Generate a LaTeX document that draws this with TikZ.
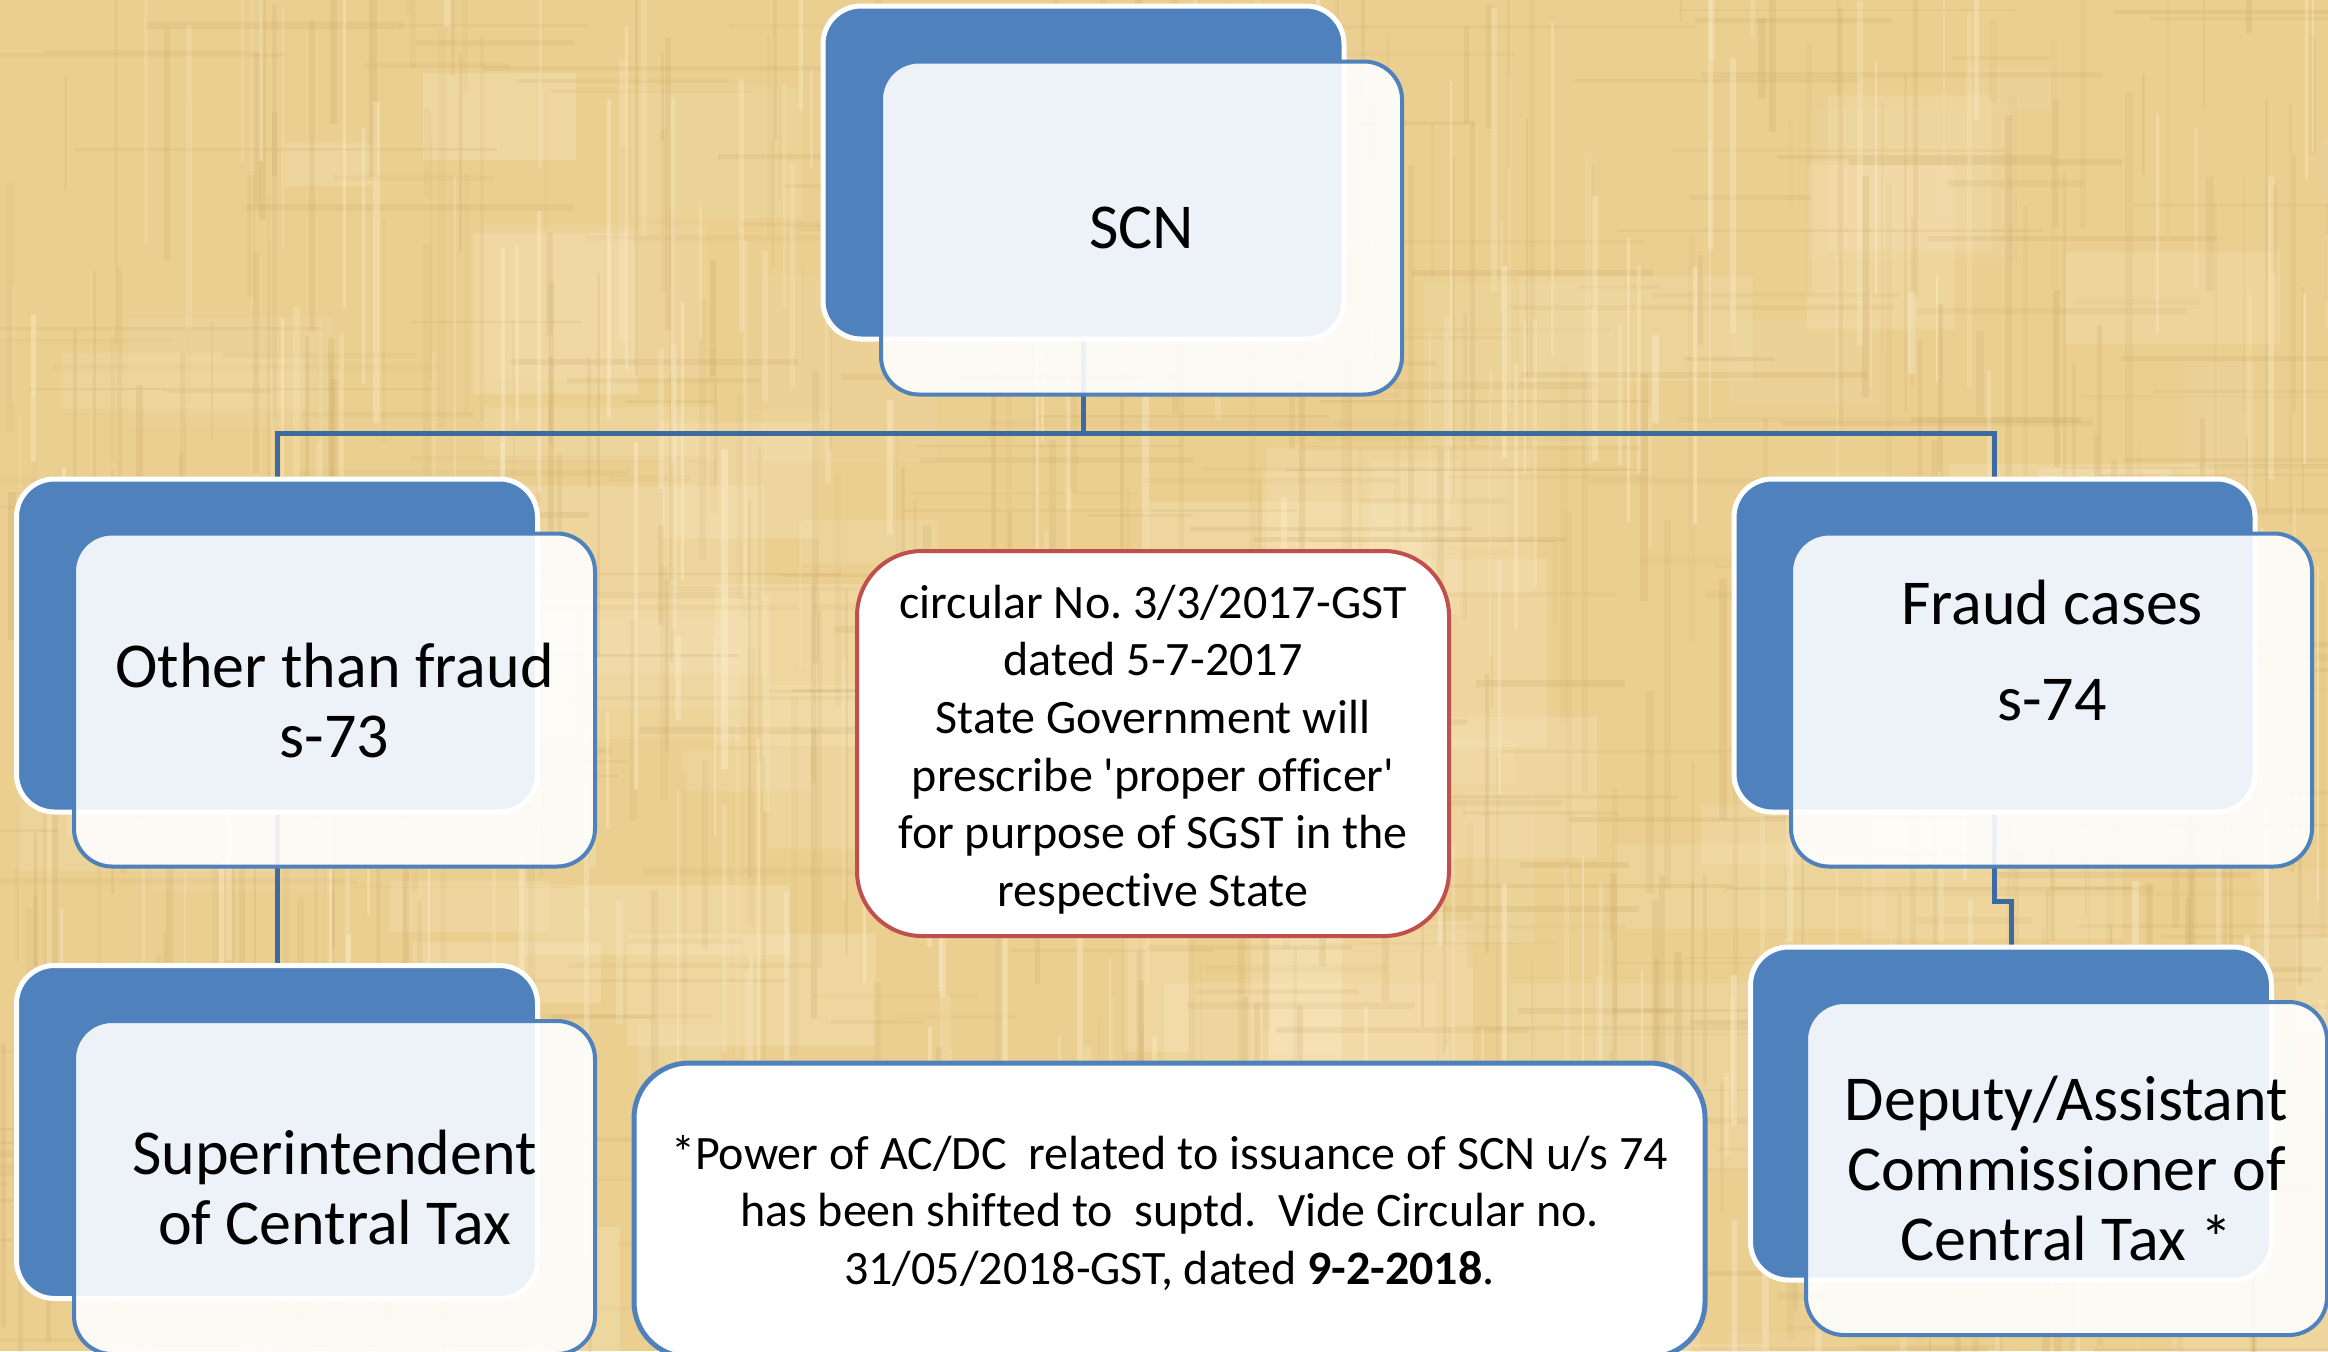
\documentclass[tikz,border=0pt]{standalone}
\usepackage{fontspec}
\setmainfont[Ligatures=NoCommon]{Carlito}
\frenchspacing
\usetikzlibrary{calc}
\definecolor{blu}{RGB}{79,129,189}
\definecolor{conncol}{RGB}{61,106,160}
\definecolor{redb}{RGB}{192,80,77}
\definecolor{bgcol}{RGB}{234,207,145}
\definecolor{texdark}{RGB}{196,160,92}
\definecolor{texlight}{RGB}{252,238,204}
\pgfdeclarelayer{bg}
\pgfdeclarelayer{conn}
\pgfsetlayers{bg,conn,main}
\begin{document}
\begin{tikzpicture}[x=0.5pt,y=-0.5pt,
  backbox/.style={rectangle, rounded corners=19pt, fill=blu, draw=white, line width=2.5pt,
    minimum width=260.5pt, minimum height=166.5pt, inner sep=0pt, outer sep=0pt},
  frontbox/.style={rectangle, rounded corners=19pt, fill=white, fill opacity=0.9, text opacity=1,
    draw=blu, line width=2pt, minimum width=260.5pt, minimum height=166.5pt,
    inner sep=0pt, outer sep=0pt, align=center, font=\fontsize{32}{35}\selectfont},
  bigtxt/.style={align=center, inner sep=0pt, font=\fontsize{32}{35}\selectfont},
  conn/.style={draw=conncol, line width=2.5pt},
  notebox/.style={rectangle, rounded corners=32.5pt, fill=white, draw=redb, line width=2pt,
    minimum width=296pt, minimum height=192.5pt, inner sep=0pt, align=center,
    font=\fontsize{24}{28.8}\selectfont},
  footbox/.style={rectangle, rounded corners=27.5pt, fill=white, draw=blu, line width=2.5pt,
    minimum width=535.5pt, minimum height=147pt, inner sep=0pt, align=center,
    font=\fontsize{24}{28.75}\selectfont}
]
\useasboundingbox (0,0) rectangle (2328,1351);

% background texture
\begin{pgfonlayer}{bg}
  \fill[bgcol] (0,0) rectangle (2328,1351);
  \pgfmathsetseed{4242}
  \foreach \i in {1,...,90}{
    \pgfmathsetmacro\xx{rnd*2328}
    \pgfmathsetmacro\yy{rnd*1351}
    \pgfmathsetmacro\ww{60+rnd*220}
    \pgfmathsetmacro\hh{40+rnd*160}
    \pgfmathsetmacro\op{0.08+rnd*0.17}
    \fill[texlight, opacity=\op] (\xx,\yy) rectangle ++(\ww,\hh);
  }
  \foreach \i in {1,...,420}{
    \pgfmathsetmacro\xx{rnd*2328}
    \pgfmathsetmacro\yy{rnd*1351-100}
    \pgfmathsetmacro\ww{2+rnd*6}
    \pgfmathsetmacro\hh{80+rnd*350}
    \pgfmathsetmacro\op{0.06+rnd*0.14}
    \fill[texdark, opacity=\op] (\xx,\yy) rectangle ++(\ww,\hh);
  }
  \foreach \i in {1,...,300}{
    \pgfmathsetmacro\xx{rnd*2328-100}
    \pgfmathsetmacro\yy{rnd*1351}
    \pgfmathsetmacro\ww{80+rnd*350}
    \pgfmathsetmacro\hh{2+rnd*5}
    \pgfmathsetmacro\op{0.06+rnd*0.13}
    \fill[texdark, opacity=\op] (\xx,\yy) rectangle ++(\ww,\hh);
  }
  \foreach \i in {1,...,250}{
    \pgfmathsetmacro\xx{rnd*2328}
    \pgfmathsetmacro\yy{rnd*1351-100}
    \pgfmathsetmacro\ww{2+rnd*5}
    \pgfmathsetmacro\hh{80+rnd*300}
    \pgfmathsetmacro\op{0.15+rnd*0.3}
    \fill[texlight, opacity=\op] (\xx,\yy) rectangle ++(\ww,\hh);
  }
\end{pgfonlayer}

% SCN
\node[backbox]  (scnB) at (1083.5,172.5) {};
\node[frontbox] (scn)  at (1141.5,228) {SCN};

% Other than fraud
\node[backbox]  (leftB) at (277,645.5) {};
\node[frontbox] (left)  at (334.5,700) {Other than fraud\\s-73};

% Fraud cases
\node[backbox]  (rightB) at (1994.5,645.5) {};
\node[frontbox] (right)  at (2051.5,700) {};
\node[bigtxt]   (rightT) at (2052,650) {Fraud cases\\[13pt]s-74};

% Superintendent
\node[backbox]  (lowleftB) at (277,1132) {};
\node[frontbox] (lowleft)  at (334.5,1187.5) {Superintendent\\of Central Tax};

% Deputy/Assistant
\node[backbox]  (lowrightB) at (2011,1113.5) {};
\node[frontbox] (lowright)  at (2066.5,1168.5) {Deputy/Assistant\\Commissioner of\\Central Tax *};

% notes
\node[notebox] (note) at (1153,743.5) {};
\node[align=center, inner sep=0pt, font=\fontsize{24}{28.8}\selectfont] (noteT) at (1153,749.5) {circular No. 3/3/2017-GST\\dated 5-7-2017\\State Government will\\prescribe \textquotesingle proper officer\textquotesingle\\for purpose of SGST in the\\respective State};
\node[footbox] (foot) at (1169.5,1210) {};
\node[align=center, inner sep=0pt, font=\fontsize{24}{28.75}\selectfont] (footT) at (1169.5,1213) {*Power of AC/DC\ \ related to issuance of SCN u/s 74\\has been shifted to\ \ suptd.\ \ Vide Circular no.\\31/05/2018-GST, dated \textbf{9-2-2018}.};

% connectors
\begin{pgfonlayer}{conn}
  \coordinate (hub) at ($(scnB.south)+(0,94)$);
  \draw[conn] (scnB.south) -- (hub);
  \draw[conn] (leftB.north) |- (hub) -| (rightB.north);
  \draw[conn] (leftB.south) -- (lowleftB.north);
  \draw[conn] (rightB.south) -- ++(0,89) -| (lowrightB.north);
\end{pgfonlayer}
\end{tikzpicture}
\end{document}
